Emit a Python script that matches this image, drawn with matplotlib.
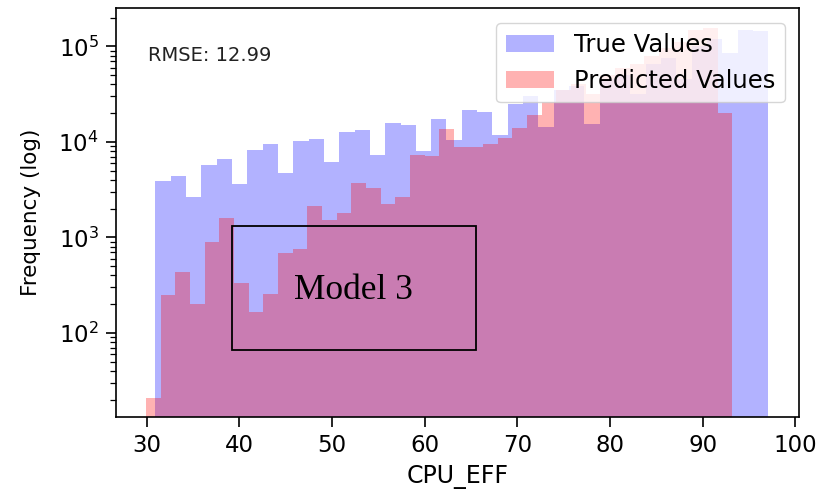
import matplotlib

matplotlib.use("Agg")
import matplotlib.pyplot as plt
import numpy as np
from matplotlib.patches import Rectangle

# histogram counts (40 bins each)
true_range = (30.93, 97.1)
true_counts = [
    3870, 4370, 2620, 5690, 6680, 3660, 8320, 9440, 4780, 10200,
    10600, 6170, 12700, 13200, 7250, 15800, 15100, 8000, 17200, 10400,
    21400, 20500, 11700, 25000, 30000, 14300, 35000, 38000, 15500, 45000,
    50000, 32000, 65000, 75000, 45000, 100000, 120000, 85000, 150000, 145000,
]
pred_range = (29.95, 93.2)
pred_counts = [
    21, 250, 437, 199, 900, 1580, 330, 167, 254, 681,
    750, 2140, 1510, 1790, 3720, 3300, 2230, 2660, 7360, 7090,
    13500, 8800, 8900, 9500, 11000, 14000, 19000, 26000, 35000, 40000,
    32000, 50000, 60000, 65000, 80000, 95000, 110000, 150000, 155000, 20000,
]
rmse = 12.99

true_edges = np.linspace(*true_range, len(true_counts) + 1)
pred_edges = np.linspace(*pred_range, len(pred_counts) + 1)

fig = plt.figure(figsize=(8.21, 4.95), dpi=100)
ax = fig.add_axes([0.1413, 0.1582, 0.8325, 0.825])

ax.hist(true_edges[:-1], bins=true_edges, weights=true_counts,
        color="blue", alpha=0.3, label="True Values")
ax.hist(pred_edges[:-1], bins=pred_edges, weights=pred_counts,
        color="red", alpha=0.3, label="Predicted Values")
ax.set_yscale("log")
ax.set_xlim(26.7, 100.45)
ax.set_ylim(13.3, 2.5e5)

for spine in ax.spines.values():
    spine.set_linewidth(1.2)
ax.tick_params(which="major", labelsize=16.5, length=7.5, width=1.2, pad=5)
ax.tick_params(which="minor", length=4, width=0.9)
ax.set_xlabel("CPU_EFF", fontsize=17, labelpad=6)
ax.set_ylabel("Frequency (log)", fontsize=15.5, labelpad=12)
ax.legend(loc="upper right", fontsize=17.5, borderaxespad=0.6)
ax.text(0.047, 0.885, f"RMSE: {rmse:.2f}", transform=ax.transAxes,
        fontsize=14, va="center", color="#222222")

# "Model 3" overlay box
fig.patches.append(Rectangle((0.2826, 0.2929), 0.2972, 0.2505,
                             transform=fig.transFigure, fill=False,
                             edgecolor="black", linewidth=1.3))
fig.text(0.43, 0.413, "Model 3", fontsize=25.5, family="Liberation Serif",
         ha="center", va="center")

fig.savefig("out.png", dpi=100)
